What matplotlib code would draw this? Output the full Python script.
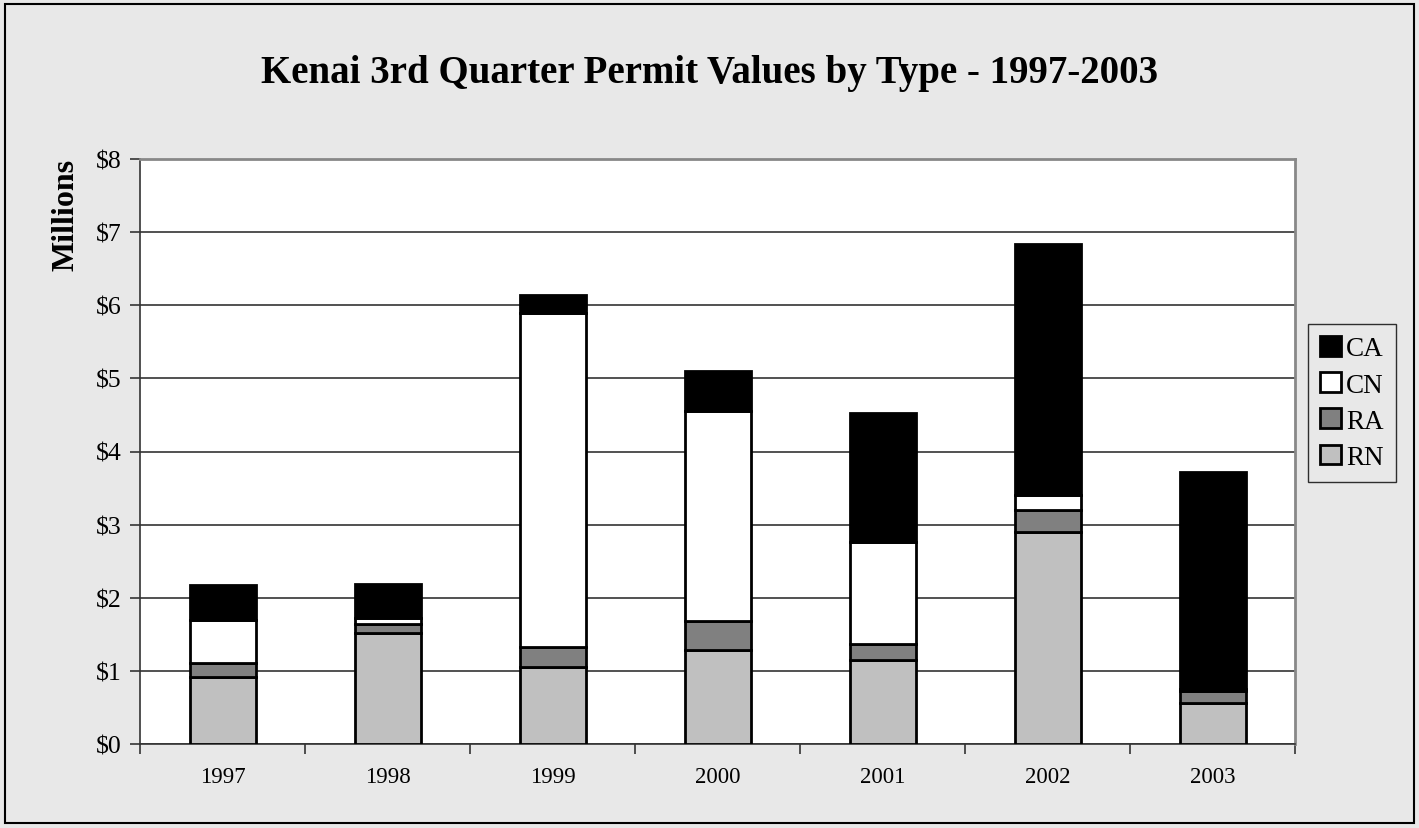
import matplotlib
matplotlib.use("Agg")
import matplotlib.pyplot as plt
import numpy as np
from matplotlib.patches import Rectangle

years = ["1997", "1998", "1999", "2000", "2001", "2002", "2003"]
# values in millions of dollars, stacked bottom to top
rn = [0.92, 1.52, 1.05, 1.29, 1.15, 2.90, 0.56]
ra = [0.19, 0.12, 0.27, 0.39, 0.22, 0.30, 0.16]
cn = [0.58, 0.08, 4.58, 2.88, 1.39, 0.20, 0.03]
ca = [0.48, 0.47, 0.24, 0.545, 1.76, 3.435, 2.97]

plt.rcParams['font.family'] = ['Liberation Serif', 'DejaVu Serif']

bg = "#e8e8e8"
fig = plt.figure(figsize=(14.19, 8.29), dpi=100, facecolor=bg)
ax = fig.add_axes([140/1419, 84/829, 1155/1419, 585/829])
ax.set_facecolor("white")

x = np.arange(len(years))
w = 0.40
bottom = np.zeros(len(years))
series = [("RN", rn, "#c0c0c0"), ("RA", ra, "#808080"), ("CN", cn, "white"), ("CA", ca, "black")]
handles = {}
for name, vals, col in series:
    b = ax.bar(x, vals, w, bottom=bottom, color=col, edgecolor="black", linewidth=2, zorder=3, label=name)
    handles[name] = b
    bottom = bottom + np.array(vals)

ax.set_xlim(-0.5, 6.5)
ax.set_ylim(0, 8)
ax.set_yticks(range(0, 9))
ax.set_yticklabels(["$%d" % v for v in range(0, 9)], fontsize=18.5)
ax.yaxis.grid(True, color="#333333", linewidth=1.2, zorder=0)
ax.set_axisbelow(True)

ax.set_xticks(x)
ax.set_xticklabels(years, fontsize=16.5)
ax.tick_params(axis="x", which="major", length=0, pad=16)
ax.set_xticks(np.arange(-0.5, 7, 1), minor=True)
ax.tick_params(axis="x", which="minor", length=7, width=1.2, direction="out", color="#333333")
ax.tick_params(axis="y", length=7, width=1.2, direction="out", color="#333333", pad=6)

for s in ["top", "right"]:
    ax.spines[s].set_color("#888888")
    ax.spines[s].set_linewidth(2)
for s in ["left", "bottom"]:
    ax.spines[s].set_color("#333333")
    ax.spines[s].set_linewidth(1.2)

fig.text(66/1419, 1 - 215/829, "Millions", rotation=90, ha="center", va="center",
         fontsize=23, fontweight="bold")

fig.text(0.5, 1 - 73/829, "Kenai 3rd Quarter Permit Values by Type - 1997-2003",
         ha="center", va="center", fontsize=28, fontweight="bold")

leg = fig.legend([handles[n] for n in ["CA", "CN", "RA", "RN"]], ["CA", "CN", "RA", "RN"],
                 loc="center", bbox_to_anchor=(1352/1419, 1 - 404/829), fontsize=19.5,
                 frameon=True, fancybox=False, handlelength=0.75, handleheight=0.75,
                 handletextpad=0.2, labelspacing=0.4, borderpad=0.45, borderaxespad=0)
leg.get_frame().set_facecolor(bg)
leg.get_frame().set_edgecolor("black")
leg.get_frame().set_linewidth(1)

fig.patches.append(Rectangle((5/1419, 5/829), 1409/1419, 819/829, transform=fig.transFigure,
                             fill=False, edgecolor="black", linewidth=1.5))

fig.savefig("out.png", dpi=100, facecolor=bg)
